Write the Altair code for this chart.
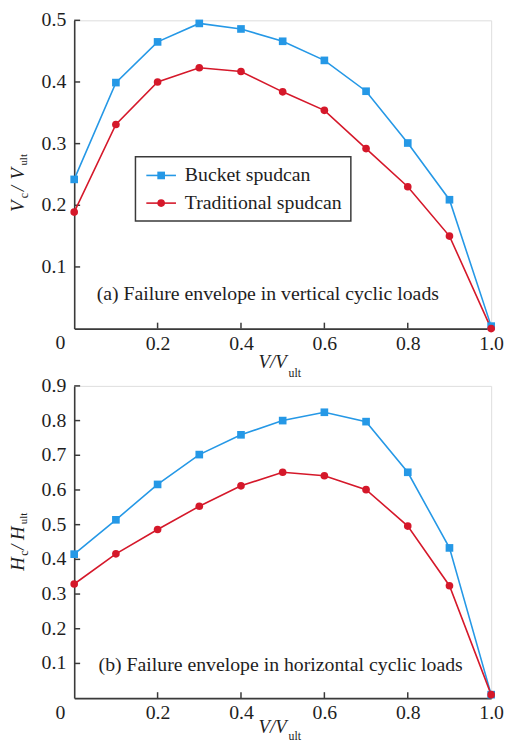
import altair as alt
import pandas as pd

# ---------------- data ----------------
x_vals = [0.0, 0.1, 0.2, 0.3, 0.4, 0.5, 0.6, 0.7, 0.8, 0.9, 1.0]
series_names = ["Bucket spudcan", "Traditional spudcan"]
vc_bucket = [0.242, 0.399, 0.465, 0.495, 0.486, 0.466, 0.435, 0.385, 0.301, 0.209, 0.004]
vc_trad = [0.189, 0.331, 0.400, 0.423, 0.417, 0.384, 0.354, 0.292, 0.230, 0.150, 0.0]
hc_bucket = [0.415, 0.514, 0.616, 0.702, 0.759, 0.800, 0.824, 0.797, 0.651, 0.433, 0.010]
hc_trad = [0.329, 0.416, 0.486, 0.553, 0.612, 0.651, 0.641, 0.601, 0.496, 0.324, 0.010]
x_tick_values = [0.2, 0.4, 0.6, 0.8, 1.0]
top_y_ticks = [0.1, 0.2, 0.3, 0.4, 0.5]
bottom_y_ticks = [0.1, 0.2, 0.3, 0.4, 0.5, 0.6, 0.7, 0.8, 0.9]
note_a = "(a) Failure envelope in vertical cyclic loads"
note_b = "(b) Failure envelope in horizontal cyclic loads"

# ---------------- style ----------------
COLORS = ["#2598e6", "#d5182a"]
SHAPES = ["square", "circle"]
FONT = "'Liberation Serif', 'Times New Roman', serif"
AX = "#3a3a3a"
TXT = "#1e1e1e"
W = 422


def make_df(b, t):
    rows = []
    for name, ys in zip(series_names, [b, t]):
        for xv, yv in zip(x_vals, ys):
            rows.append({"x": xv, "y": yv, "series": name})
    return pd.DataFrame(rows)


def txt(s, x, y, size=20, style="normal", angle=0, align="center"):
    kw = dict(text=s, font=FONT, fontSize=size, fontStyle=style, color=TXT,
              align=align, baseline="middle")
    if angle:
        kw["angle"] = angle
    return alt.Chart().mark_text(**kw).encode(x=alt.value(x), y=alt.value(y))


def panel(b, t, ymax, yticks, H, ytitle, note, note_xy, xtitle_dy, legend):
    df = make_df(b, t)
    xs = alt.Scale(domain=[0, 1], nice=False, zero=False)
    ys = alt.Scale(domain=[0, ymax], nice=False)
    col = alt.Color("series:N", scale=alt.Scale(domain=series_names, range=COLORS), legend=None)
    shp = alt.Shape("series:N", scale=alt.Scale(domain=series_names, range=SHAPES), legend=None)
    xaxis = alt.Axis(values=x_tick_values, format=".1f", ticks=False, grid=False, title=None,
                     labelPadding=5, domainColor=AX, domainWidth=1.6, labelFont=FONT,
                     labelFontSize=20, labelColor=TXT, labelFlush=False, labelOverlap=False)
    # y axis: domain line only, labels drawn as text marks through the y scale
    yaxis = alt.Axis(values=yticks, ticks=False, grid=False, title=None, labels=False,
                     domainColor=AX, domainWidth=1.6)
    base = alt.Chart(df)
    lines = base.mark_line(strokeWidth=1.6).encode(
        x=alt.X("x:Q", scale=xs, axis=xaxis),
        y=alt.Y("y:Q", scale=ys, axis=yaxis),
        color=col, detail="series:N")
    pts = base.mark_point(filled=True, size=60, opacity=1).encode(
        x=alt.X("x:Q", scale=xs, axis=xaxis), y=alt.Y("y:Q", scale=ys, axis=yaxis),
        color=col, shape=shp)
    tick_df = pd.DataFrame({"v": yticks})
    yt = alt.Chart(tick_df).mark_rule(color=AX, strokeWidth=1.5).encode(
        y=alt.Y("v:Q", scale=ys, axis=yaxis), x=alt.value(0), x2=alt.value(6))
    ylab = alt.Chart(tick_df).mark_text(font=FONT, fontSize=20, color=TXT, align="right",
                                        baseline="middle").encode(
        y=alt.Y("v:Q", scale=ys, axis=yaxis), x=alt.value(-8),
        text=alt.Text("v:Q", format=".1f"))
    xt = alt.Chart(pd.DataFrame({"v": x_tick_values[:-1]})).mark_rule(color=AX, strokeWidth=1.5).encode(
        x=alt.X("v:Q", scale=xs, axis=xaxis), y=alt.value(H), y2=alt.value(H - 6))
    layers = [yt, xt, ylab, lines, pts]
    # zero label at origin
    layers.append(txt("0", -14, H + 15))
    # x title V/V_ult
    layers.append(txt("V/V", 215, H + xtitle_dy[0], size=19, style="italic", align="right"))
    layers.append(txt("ult", 217, H + xtitle_dy[1], size=12, align="left"))
    # y title pieces (rotated)
    for s, ypos, xpos, size, style in ytitle:
        layers.append(txt(s, xpos, ypos, size=size, style=style, angle=270, align="left"))
    layers.append(txt(note, note_xy[0], note_xy[1], size=20))
    if legend:
        layers.append(alt.Chart().mark_rect(fill="white", stroke=AX, strokeWidth=1.5).encode(
            x=alt.value(62), x2=alt.value(280), y=alt.value(138), y2=alt.value(203)))
        for i, name in enumerate(series_names):
            yy = 157 + 28 * i
            layers.append(alt.Chart().mark_rule(color=COLORS[i], strokeWidth=1.6).encode(
                x=alt.value(73), x2=alt.value(103), y=alt.value(yy)))
            layers.append(alt.Chart().mark_point(shape=SHAPES[i], filled=True, size=60,
                                                 color=COLORS[i], opacity=1).encode(
                x=alt.value(88), y=alt.value(yy)))
            layers.append(txt(name, 112, yy, size=20, align="left"))
    return alt.layer(*layers).properties(width=W, height=H)


top_title = [
    ("V", 194, -57, 19, "italic"),
    ("c", 180, -51, 12, "normal"),
    ("/", 173, -57, 19, "italic"),
    ("V", 161, -57, 19, "italic"),
    ("ult", 147, -51, 11, "normal"),
]
bottom_title = [
    ("H", 187, -57, 19, "italic"),
    ("c", 172, -51, 12, "normal"),
    ("/", 166, -57, 19, "italic"),
    ("H", 156, -57, 19, "italic"),
    ("ult", 140, -51, 11, "normal"),
]

top = panel(vc_bucket, vc_trad, 0.5, top_y_ticks, 312, top_title, note_a, (196, 277), (34, 45), True)
bottom = panel(hc_bucket, hc_trad, 0.9, bottom_y_ticks, 316, bottom_title, note_b, (209, 283), (29, 38), False)

chart = alt.vconcat(top, bottom, spacing=58, bounds="flush").properties(
    padding={"top": -3, "left": 0, "right": 0, "bottom": 0}
).configure_view(stroke=None).configure(background="white")

chart.save("out.html", embed_options={"renderer": "svg", "actions": False})
